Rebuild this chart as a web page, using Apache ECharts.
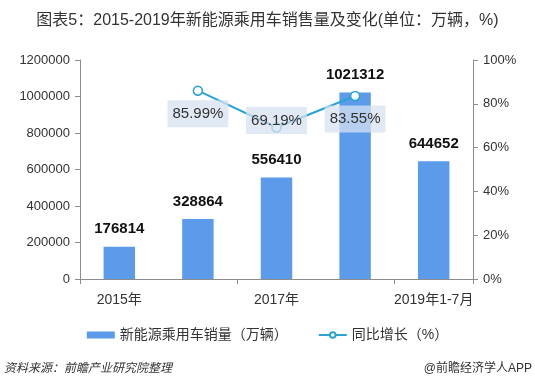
<!DOCTYPE html>
<html><head><meta charset="utf-8">
<script src="https://cdn.jsdelivr.net/npm/echarts@6/dist/echarts.min.js"></script>
<style>html,body{margin:0;padding:0;background:#fff}#c{width:535px;height:391px}</style>
</head><body><div id="c"></div>
<script>
const categories = ['2015年', '2016年', '2017年', '2018年', '2019年1-7月'];
const sales = [176814, 328864, 556410, 1021312, 644652];
const growth = [null, 85.99, 69.19, 83.55, null];
const leftTicks = [0, 1200000, 200000];
const rightTicks = [0, 100, 20];
const growthLabelOffset = [0, 23, -7, 23, 0];

const chart = echarts.init(document.getElementById('c'));
const font = 'Arial, "Liberation Sans", "Noto Sans CJK SC", sans-serif';
chart.setOption({
  animation: false,
  textStyle: { fontFamily: font },
  title: {
    text: '图表5：2015-2019年新能源乘用车销售量及变化(单位：万辆，%)',
    left: 'center', top: 8,
    textStyle: { fontSize: 16, fontWeight: 'normal', color: '#333', fontFamily: font }
  },
  graphic: [
    { type: 'text', left: 4, top: 363, style: { text: '资料来源：前瞻产业研究院整理', fill: '#333', font: 'italic 12px ' + font } },
    { type: 'text', right: 3, top: 363, style: { text: '@前瞻经济学人APP', fill: '#333', font: '12px ' + font } }
  ],
  legend: {
    bottom: 44, left: 'center', itemGap: 30, itemWidth: 28, itemHeight: 7,
    textStyle: { fontSize: 14, color: '#333', fontFamily: font },
    data: [
      { name: '新能源乘用车销量（万辆）', icon: 'rect' },
      { name: '同比增长（%）' }
    ]
  },
  grid: { left: 80, right: 62, top: 60, bottom: 112 },
  xAxis: {
    type: 'category', data: categories,
    axisLine: { lineStyle: { color: '#8c8c8c' } },
    axisTick: { show: true, length: 5, lineStyle: { color: '#8c8c8c' } },
    axisLabel: { interval: 1, fontSize: 14, color: '#333', margin: 14 }
  },
  yAxis: [
    {
      type: 'value', min: leftTicks[0], max: leftTicks[1], interval: leftTicks[2],
      splitLine: { show: false },
      axisLine: { show: true, lineStyle: { color: '#8c8c8c' } },
      axisTick: { show: true, length: 5, lineStyle: { color: '#8c8c8c' } },
      axisLabel: { fontSize: 13, color: '#333', margin: 10, formatter: v => String(v) }
    },
    {
      type: 'value', min: rightTicks[0], max: rightTicks[1], interval: rightTicks[2],
      splitLine: { show: false },
      axisLine: { show: true, lineStyle: { color: '#8c8c8c' } },
      axisTick: { show: true, length: 5, lineStyle: { color: '#8c8c8c' } },
      axisLabel: { fontSize: 13, color: '#333', margin: 10, formatter: '{value}%' }
    }
  ],
  series: [
    {
      name: '新能源乘用车销量（万辆）', type: 'bar', data: sales, barWidth: '40%',
      itemStyle: { color: '#5b9bea' },
      label: { show: true, position: 'top', distance: 10, fontSize: 15, fontWeight: 'bold', color: '#111' }
    },
    {
      name: '同比增长（%）', type: 'line', yAxisIndex: 1,
      data: growth.map((v, i) => ({ value: v, label: { offset: [0, growthLabelOffset[i]] } })),
      symbol: 'circle', symbolSize: 9,
      lineStyle: { color: '#29a3d4', width: 2 },
      itemStyle: { color: '#fff', borderColor: '#29a3d4', borderWidth: 1.5 },
      label: {
        show: true, position: 'inside', formatter: p => p.value.toFixed(2) + '%',
        fontSize: 15, color: '#333', backgroundColor: 'rgba(214,226,240,0.75)',
        padding: [6, 5]
      },
      z: 3
    }
  ]
});
</script></body></html>
